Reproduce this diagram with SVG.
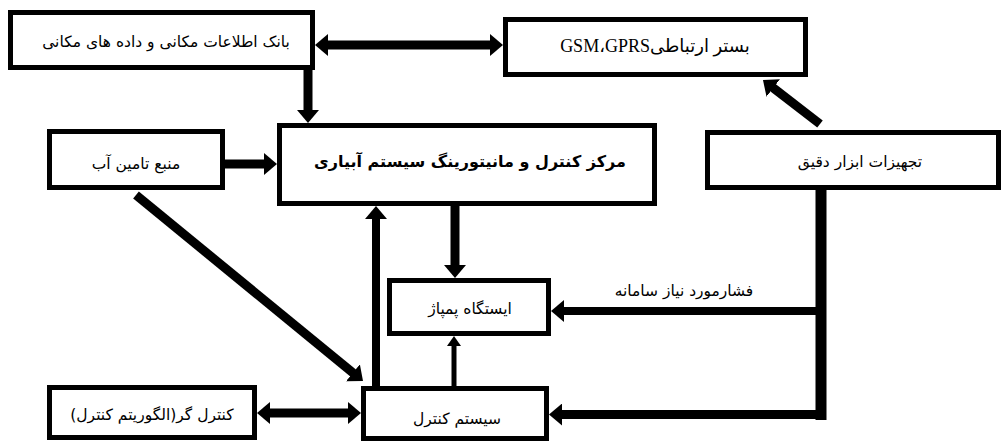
<svg xmlns="http://www.w3.org/2000/svg" width="1003" height="443" viewBox="0 0 1003 443">
<style>
.box{fill:#fff;stroke:#000;stroke-width:5}
.lbl{font-family:"DejaVu Sans",sans-serif;font-size:15.5px;fill:#000;text-anchor:middle}
.bold{font-weight:bold;font-size:16px}
.ser{font-family:"Liberation Serif","DejaVu Sans",serif;font-size:18px}
.c{fill:none;stroke:#000;stroke-width:9}
.t{fill:none;stroke:#000;stroke-width:5}
</style>
<defs>
<marker id="ah" viewBox="0 0 13 22" refX="5" refY="11" markerWidth="13" markerHeight="22" markerUnits="userSpaceOnUse" orient="auto-start-reverse"><path d="M0,0 L13,11 L0,22 z" fill="#000"/></marker>
<marker id="ahs" viewBox="0 0 10 14" refX="4" refY="7" markerWidth="10" markerHeight="14" markerUnits="userSpaceOnUse" orient="auto"><path d="M0,0 L10,7 L0,14 z" fill="#000"/></marker>
</defs>
<rect width="1003" height="443" fill="#fff"/>
<g id="connectors">
<line class="c" x1="323" y1="45" x2="495" y2="45" marker-start="url(#ah)" marker-end="url(#ah)"/>
<line class="c" x1="308" y1="70" x2="308" y2="115" marker-end="url(#ah)"/>
<line class="c" x1="225" y1="164" x2="269" y2="164" marker-end="url(#ah)"/>
<line class="c" x1="820" y1="124" x2="769.3" y2="84.9" marker-end="url(#ah)"/>
<line class="c" x1="455" y1="206" x2="455" y2="270" marker-end="url(#ah)"/>
<line class="c" x1="821" y1="190" x2="821" y2="420" style="stroke-width:11"/>
<path class="c" d="M821,311 H559" style="stroke-width:8" marker-end="url(#ah)"/>
<path class="c" d="M821,414.5 H557" style="stroke-width:9" marker-end="url(#ah)"/>
<line class="c" x1="265" y1="413" x2="353" y2="413" marker-start="url(#ah)" marker-end="url(#ah)"/>
<line class="c" x1="136" y1="195" x2="356.8" y2="376" marker-end="url(#ah)"/>
<line class="c" x1="376" y1="386" x2="376" y2="214" style="stroke-width:8" marker-end="url(#ah)"/>
<line class="t" x1="454" y1="386" x2="454" y2="342" marker-end="url(#ahs)"/>
</g>
<g id="bank"><rect class="box" x="10.5" y="12.5" width="302" height="55"/><text class="lbl" x="166" y="47" direction="rtl">بانک اطلاعات مکانی و داده های مکانی</text></g>
<g id="gsm"><rect class="box" x="505.5" y="19.5" width="300" height="55"/><text class="lbl ser" x="655" y="52" direction="rtl">بستر ارتباطیGSM،GPRS</text></g>
<g id="center"><rect class="box" x="279.5" y="125.5" width="375" height="78"/><text class="lbl bold" x="470" y="167" direction="rtl">مرکز کنترل و مانیتورینگ سیستم آبیاری</text></g>
<g id="water"><rect class="box" x="49.5" y="131.5" width="173" height="56"/><text class="lbl" x="136" y="169" direction="rtl">منبع تامین آب</text></g>
<g id="instruments"><rect class="box" x="707.5" y="132.5" width="291" height="55"/><text class="lbl" x="860" y="167" direction="rtl">تجهیزات ابزار دقیق</text></g>
<g id="pump"><rect class="box" x="389.5" y="280.5" width="159" height="53"/><text class="lbl" x="470" y="314" direction="rtl">ایستگاه پمپاژ</text></g>
<g id="control"><rect class="box" x="363.5" y="388.5" width="183" height="50"/><text class="lbl" x="457" y="424" direction="rtl">سیستم کنترل</text></g>
<g id="controller"><rect class="box" x="49.5" y="387.5" width="205" height="50"/><text class="lbl" x="152" y="420" direction="rtl">کنترل گر(الگوریتم کنترل)</text></g>
<g id="label"><text class="lbl" x="684" y="296" direction="rtl">فشارمورد نیاز سامانه</text></g>
</svg>
